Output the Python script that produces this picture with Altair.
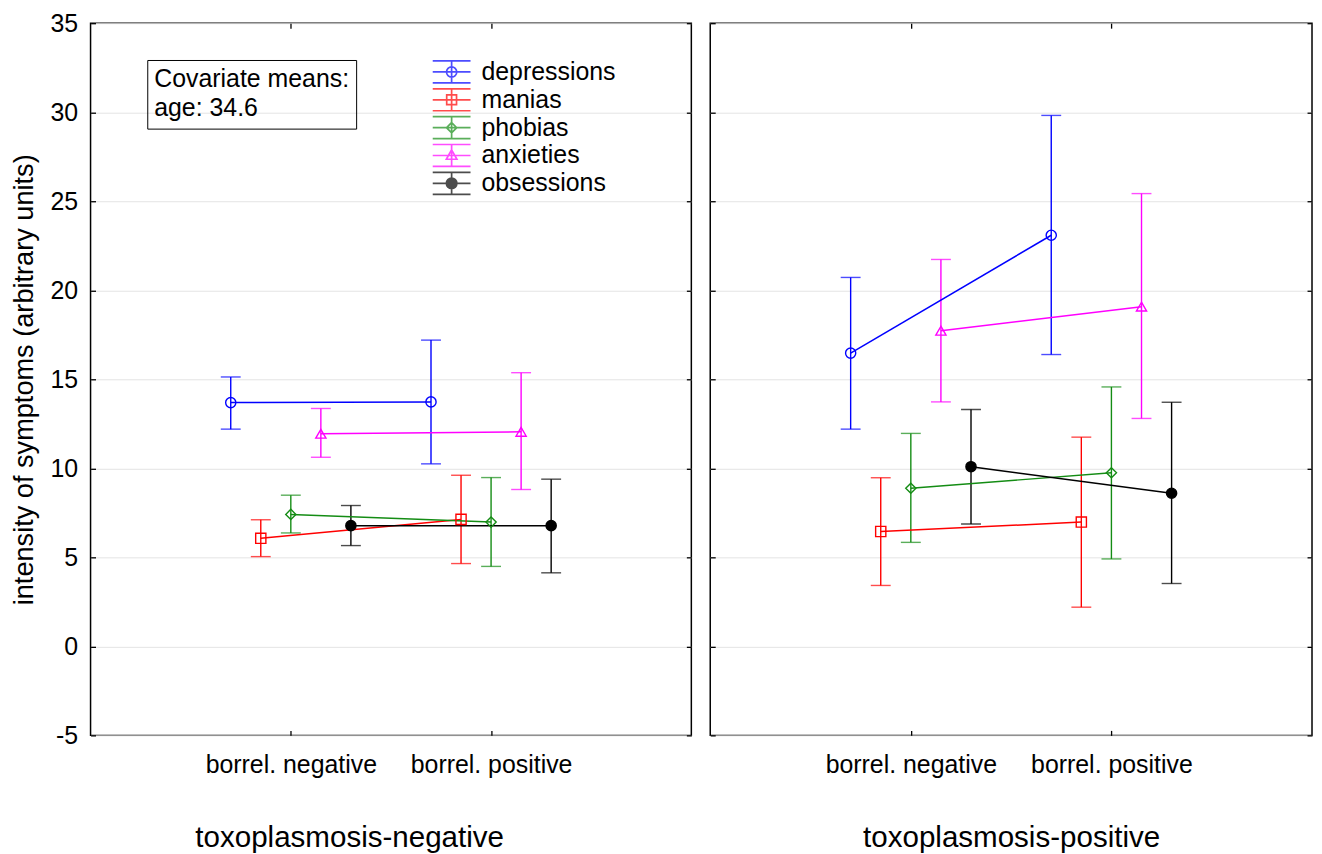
import json
import altair as alt
import pandas as pd

# ---------------- data ----------------
panels = ["toxoplasmosis-negative", "toxoplasmosis-positive"]
cats = ["borrel. negative", "borrel. positive"]
series = ["depressions", "manias", "phobias", "anxieties", "obsessions"]

# means [series][category] per panel
mean_neg = {
    "depressions": [13.69, 13.73],
    "manias": [6.07, 7.13],
    "phobias": [7.41, 6.98],
    "anxieties": [11.94, 12.05],
    "obsessions": [6.78, 6.78],
}
lo_neg = {
    "depressions": [12.20, 10.25],
    "manias": [5.04, 4.65],
    "phobias": [6.37, 4.49],
    "anxieties": [10.62, 8.81],
    "obsessions": [5.66, 4.13],
}
hi_neg = {
    "depressions": [15.13, 17.20],
    "manias": [7.11, 9.61],
    "phobias": [8.49, 9.48],
    "anxieties": [13.36, 15.37],
    "obsessions": [7.91, 9.39],
}
mean_pos = {
    "depressions": [16.47, 23.09],
    "manias": [6.45, 6.98],
    "phobias": [8.88, 9.75],
    "anxieties": [17.73, 19.08],
    "obsessions": [10.09, 8.60],
}
lo_pos = {
    "depressions": [12.20, 16.39],
    "manias": [3.42, 2.20],
    "phobias": [5.84, 4.91],
    "anxieties": [13.73, 12.80],
    "obsessions": [6.87, 3.53],
}
hi_pos = {
    "depressions": [20.72, 29.82],
    "manias": [9.47, 11.75],
    "phobias": [11.96, 14.57],
    "anxieties": [21.73, 25.43],
    "obsessions": [13.30, 13.71],
}
covariate_title = "Covariate means:"
covariate_text = "age: 34.6"
y_title = "intensity of symptoms (arbitrary units)"

# ---------------- styles ----------------
colors = ["#0000ff", "#ff0000", "#148c14", "#ff00ff", "#000000"]
markers = ["circle", "square", "diamond", "triangle-up", "circle"]
marker_fills = ["transparent", "transparent", "transparent", "transparent", "#000000"]
dodge = [-0.3, -0.15, 0.0, 0.15, 0.3]   # horizontal dodge of the series

FONT = "Liberation Sans"
LBL = 25

_bar = "M-1,-0.58H1M-1,0.58H1M-1,0H1M0,-0.58V0.58"
def _circ(r):
    return "M%.3f,0A%.3f,%.3f 0 1,1 -%.3f,0A%.3f,%.3f 0 1,1 %.3f,0" % (r, r, r, r, r, r, r)
legend_paths = [
    _bar + _circ(0.27),
    _bar + "M-0.26,-0.26H0.26V0.26H-0.26Z",
    _bar + "M0,-0.27L0.27,0L0,0.27L-0.27,0Z",
    _bar + "M0,-0.3L0.28,0.2L-0.28,0.2Z",
    _bar + "".join(_circ(r) for r in [0.28, 0.245, 0.21, 0.175, 0.14, 0.105, 0.07, 0.035]),
]

rows = []
for p, (mn, lo, hi) in zip(panels, [(mean_neg, lo_neg, hi_neg), (mean_pos, lo_pos, hi_pos)]):
    for si, s in enumerate(series):
        for ci, c in enumerate(cats):
            rows.append({
                "panel": p, "series": s, "cat": c,
                "x": ci + 1 + dodge[si],
                "mean": mn[s][ci], "lo": lo[s][ci], "hi": hi[s][ci],
                "col": colors[si], "marker": markers[si], "fillc": marker_fills[si],
                "cov": covariate_text,
            })
df = pd.DataFrame(rows)

xs = alt.Scale(domain=[0, 3], nice=False, zero=False)
ys = alt.Scale(domain=[-5, 35], nice=False, zero=False)
cscale = alt.Scale(domain=series, range=colors)
label_expr = json.dumps(cats) + "[datum.value - 1]"


def make_panel(idx, inward, width):
    pname = panels[idx]
    first = idx == 0
    base = alt.Chart(df[df.panel == pname])
    tk = dict(tickSize=5, offset=-5) if inward else dict(tickSize=0)
    common = dict(labelFontSize=LBL, labelColor="black", titleColor="black",
                  titleFontWeight="normal", tickColor="black", tickWidth=1.3,
                  domain=False, **tk)
    flat = dict(minExtent=0, maxExtent=0)
    extra_title = {"titleX": 260} if first else {}
    ax_bottom = alt.Axis(values=[1, 2], labelExpr=label_expr, title=pname, grid=False,
                         labelPadding=17, titlePadding=47, titleFontSize=29.7,
                         **extra_title, **common)
    ax_top = alt.Axis(orient="top", values=[1, 2], labels=False, title=None, grid=False,
                      **flat, **common)
    yvals = list(range(-5, 36, 5))
    if first:
        ax_left = alt.Axis(values=yvals, labelExpr="'' + datum.value", title=y_title,
                           grid=True, gridColor="#e4e4e4", labelPadding=13,
                           titlePadding=12, titleFontSize=27.3, **common)
    else:
        ax_left = alt.Axis(values=yvals, labels=False, title=None, grid=True,
                           gridColor="#e4e4e4", **flat, **common)
    ax_right = alt.Axis(orient="right", values=yvals, labels=False, title=None,
                        grid=False, **flat, **common)
    color = alt.Color("col:N", scale=None)

    rules = base.mark_rule(strokeWidth=1.4).encode(
        x=alt.X("x:Q", scale=xs, axis=ax_bottom),
        y=alt.Y("lo:Q", scale=ys, axis=ax_left),
        y2="hi:Q", color=color)
    caps_lo = base.mark_tick(orient="horizontal", size=20, thickness=1.4).encode(
        x=alt.X("x:Q", scale=xs, axis=ax_top),
        y=alt.Y("lo:Q", scale=ys, axis=ax_right), color=color)
    caps_hi = base.mark_tick(orient="horizontal", size=20, thickness=1.4).encode(
        x=alt.X("x:Q", scale=xs, axis=None),
        y=alt.Y("hi:Q", scale=ys, axis=None), color=color)
    lines = base.mark_line(strokeWidth=1.5).encode(
        x=alt.X("x:Q", scale=xs, axis=None),
        y=alt.Y("mean:Q", scale=ys, axis=None), color=color, detail="series:N")
    points = base.mark_point(filled=False, size=105, strokeWidth=1.4, opacity=1).encode(
        x=alt.X("x:Q", scale=xs, axis=None),
        y=alt.Y("mean:Q", scale=ys, axis=None), color=color,
        shape=alt.Shape("marker:N", scale=None),
        fill=alt.Fill("fillc:N", scale=None))
    layers = [rules, caps_lo, caps_hi, lines, points]

    if first:
        leg = alt.Legend(title=None, orient="none", legendX=343, legendY=35,
                         clipHeight=28, rowPadding=0, labelFontSize=LBL, labelColor="black",
                         symbolSize=1444, symbolStrokeWidth=1.7, labelOffset=10,
                         symbolOpacity=1)
        covleg = alt.Legend(title=[covariate_title, covariate_text], orient="none",
                            legendX=57, legendY=37,
                            titleFontSize=LBL, titleFontWeight="normal", titleColor="black",
                            titleLimit=500, titleLineHeight=29, titlePadding=0,
                            labelExpr="''", labelFontSize=1,
                            symbolOpacity=0, symbolSize=0, symbolStrokeWidth=0,
                            labelOffset=0, padding=7, strokeColor="black")
        legend_layer = base.mark_point(filled=False, opacity=1).encode(
            x=alt.X("x:Q", scale=xs, axis=None),
            y=alt.Y("mean:Q", scale=ys, axis=None),
            color=alt.Color("series:N", scale=cscale, legend=leg),
            shape=alt.Shape("series:N", scale=alt.Scale(domain=series, range=legend_paths),
                            legend=leg),
            strokeDash=alt.StrokeDash("cov:N", scale=alt.Scale(domain=[covariate_text],
                                                                range=[[1, 0]]),
                                      legend=covleg),
        ).transform_filter("datum.x < 0")
        layers.append(legend_layer)

    return alt.layer(*layers).resolve_axis(x="independent", y="independent").properties(
        width=width, height=716)


def build(inward):
    ch = alt.hconcat(make_panel(0, inward, 604), make_panel(1, inward, 605),
                     spacing=15).properties(
        padding={"left": 1, "top": 0, "right": 0, "bottom": 0})
    return ch.configure_view(stroke="black", strokeWidth=1.5).configure_axis(
        labelFont=FONT, titleFont=FONT).configure_legend(labelFont=FONT, titleFont=FONT)


errors = []
done = False
for inward in [True, False]:
    try:
        chart = build(inward)
        chart.save("out.html", embed_options={"renderer": "svg", "actions": False})
        done = True
        break
    except Exception as e:
        errors.append("%s: %s" % (inward, str(e)[:400]))

if not done:
    raise RuntimeError("\n".join(errors))
